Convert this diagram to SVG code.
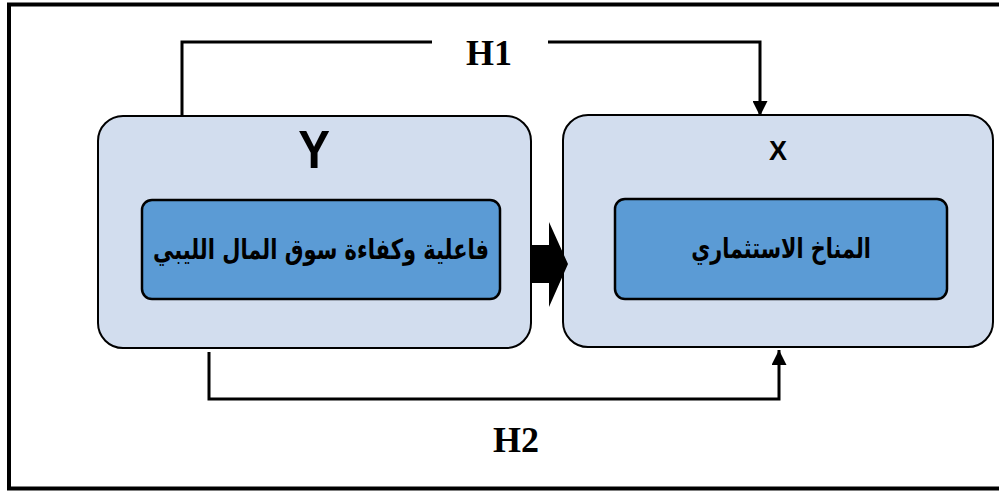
<svg xmlns="http://www.w3.org/2000/svg" width="999" height="491" viewBox="0 0 999 491">
<style>
.outer{fill:#d2ddee;stroke:#000;stroke-width:2}
.inner{fill:#5b9bd5;stroke:#000;stroke-width:2.5}
.conn{fill:none;stroke:#000;stroke-width:3}
.h{font-family:"Liberation Serif","Times New Roman",serif;font-weight:bold;font-size:36px;fill:#000;text-anchor:middle}
.lat{font-family:"Liberation Sans",Arial,sans-serif;font-weight:bold;fill:#000;text-anchor:middle}
.ar{font-family:"DejaVu Sans","Noto Sans",sans-serif;font-weight:bold;font-size:28px;fill:#000;text-anchor:middle;direction:rtl}
</style>
<defs>
<marker id="ah" viewBox="0 0 10 10" refX="10" refY="5" markerWidth="5" markerHeight="5" orient="auto" markerUnits="strokeWidth">
<path d="M0,0 L10,5 L0,10 z" fill="#000"/>
</marker>
</defs>
<rect x="0" y="0" width="999" height="491" fill="#fff"/>
<rect id="frame" x="9" y="4.5" width="1000" height="484" fill="none" stroke="#000" stroke-width="4"/>

<g id="nodeY">
<rect class="outer" x="98" y="116" width="433" height="232" rx="25"/>
<text class="lat" x="314" y="168" font-size="54" transform="translate(314 0) scale(0.88 1) translate(-314 0)">Y</text>
<g id="nodeY-inner">
<rect class="inner" x="142" y="200" width="358" height="99" rx="10"/>
<text class="ar" x="321" y="259" transform="translate(321 0) scale(0.75 1) translate(-321 0)">فاعلية وكفاءة سوق المال الليبي</text>
</g>
</g>

<g id="nodeX">
<rect class="outer" x="563" y="115" width="430" height="232" rx="25"/>
<text class="lat" x="778" y="160" font-size="27">X</text>
<g id="nodeX-inner">
<rect class="inner" x="615" y="199" width="332" height="100" rx="10"/>
<text class="ar" x="781" y="258" transform="translate(781 0) scale(0.74 1) translate(-781 0)">المناخ الاستثماري</text>
</g>
</g>

<g id="connectors">
<path class="conn" d="M182,116 V42 H432"/>
<path class="conn" d="M548,42 H760 V116" marker-end="url(#ah)"/>
<text class="h" x="489" y="65">H1</text>
<path class="conn" d="M209,352 V399 H779 V350" stroke-width="4" marker-end="url(#ah)"/>
<text class="h" x="516" y="452">H2</text>
<polygon points="532,245 549,245 549,222 568,264 549,307 549,283 532,283" fill="#000"/>
</g>
</svg>
